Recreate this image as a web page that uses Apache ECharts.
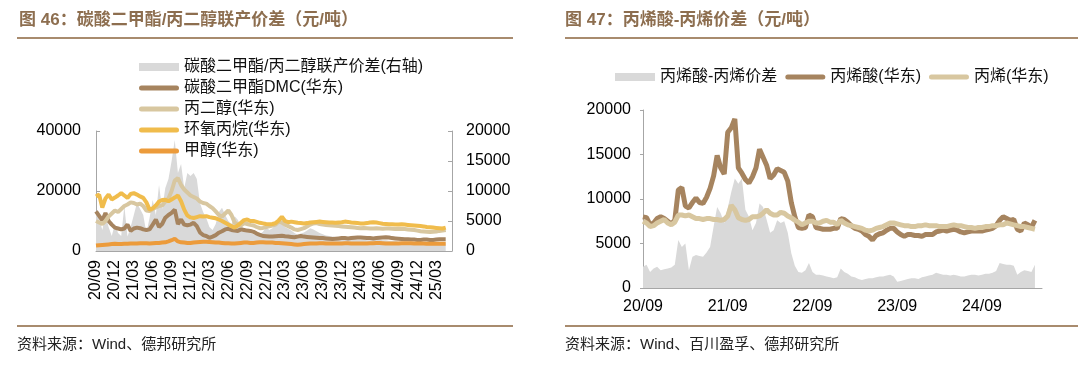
<!DOCTYPE html>
<html><head><meta charset="utf-8">
<script src="https://cdn.jsdelivr.net/npm/echarts@6/dist/echarts.min.js"></script>
<style>html,body{margin:0;padding:0;background:#fff}#c{width:1080px;height:366px}</style>
</head><body><div id="c"></div>
<script>
// half-month categories, 2020-09 .. 2025-05 (112 points)
const dates = [];
for (let y = 2020, m = 9; y < 2025 || (y === 2025 && m <= 5); m++) {
  if (m > 12) { m = 1; y++; if (y === 2025 && m > 5) break; }
  const mm = (m < 10 ? '0' : '') + m;
  dates.push(y + '-' + mm + '-01', y + '-' + mm + '-16');
}

// ---- Figure 46 (left) ----
const dmcPgSpread = [6500,5500,3500,6000,4000,2500,4500,3000,2500,7500,
  2400,4000,6000,8000,7000,6000,3000,5500,8500,6000,
  11000,7000,10500,12000,15000,18500,13000,14500,10500,13000,
  12500,13000,12000,8000,6500,5500,4000,3500,4500,6500,
  7200,6000,5000,4500,5800,5200,4200,3800,3200,3000,
  2800,2600,2800,3200,4000,3500,3800,4300,4800,4500,
  4000,3700,3400,3000,2700,2900,3100,3400,3800,3600,
  3300,3000,2800,2600,2500,2400,2300,2300,2200,2200,
  2100,2000,2000,1900,1900,1900,1800,1800,1800,1900,
  1900,1800,1800,1700,1700,1700,1600,1600,1600,1600,
  1500,1500,1500,1500,1500,1500,1400,1400,1400,1400,
  1400,1400];
const dmc = [13200,11700,10200,12700,10000,8800,7800,7500,7200,7500,
  8800,6700,7500,7800,7600,7200,7000,7200,8800,10500,
  8000,9000,11100,12000,12700,13800,9000,10500,8800,8600,
  8800,9400,8300,6200,5300,5000,4400,4800,5300,6100,
  6600,7200,7400,7000,6800,6700,7200,7000,6800,6700,
  6400,5800,5400,5000,4900,4800,4800,4900,5000,5100,
  4900,4800,4700,4600,4800,5000,4800,4700,4600,4500,
  4400,4300,4300,4200,4100,4000,4100,4200,4300,4300,
  4200,4300,4400,4500,4500,4400,4300,4300,4200,4300,
  4400,4500,4600,4500,4300,4200,4100,4000,3900,3900,
  3800,3800,3700,3700,3800,3800,3700,3700,3800,3900,
  3900,3900];
const pg = [10000,9500,9000,10000,11500,12500,13500,13000,14000,15000,
  15500,16200,16000,15500,15800,15000,13500,13300,14000,14500,
  15000,15200,16500,17500,20000,23500,24300,22000,20500,19500,
  18500,18000,17500,16500,16000,15800,15000,14300,13200,12000,
  11500,12500,13500,12000,9500,8800,8500,9300,9000,8700,
  8500,8000,7600,7700,8000,8200,8500,8800,9800,9500,
  8800,8300,7800,7200,7000,7300,7600,8200,8800,9200,
  9300,9000,8800,8700,8600,8500,8400,8300,8200,8100,
  8000,7900,7800,7700,7600,7700,7600,7500,7500,7600,
  7500,7400,7500,7500,7400,7300,7400,7300,7300,7200,
  7100,7000,6800,6600,6500,6400,6300,6400,6500,6700,
  6800,7000];
const po = [18200,18800,14500,17500,18800,17200,17800,18500,19300,18500,
  17700,19000,19300,18800,18200,17700,16200,13800,14200,15200,
  16500,17000,17100,16600,17200,17800,18500,16600,13800,11800,
  11200,11000,11300,11600,11500,11600,11300,11100,10900,10500,
  10000,9400,8800,8300,7800,8500,9400,10300,10500,10000,
  10000,9700,9400,9200,9000,8900,9000,9300,10200,11400,
  10000,9600,9800,9600,9400,9300,9200,9300,9500,9600,
  9700,9800,9700,9600,9500,9500,9400,9500,9600,9800,
  9700,9500,9400,9300,9200,9200,9300,9500,9600,9500,
  9300,9100,9000,8900,8900,8800,8800,8900,8800,8700,
  8600,8500,8400,8300,8200,8000,7900,7800,7700,7600,
  7500,7800];
const methanol = [1800,1900,2000,2100,2200,2300,2400,2300,2300,2400,
  2400,2500,2500,2500,2600,2600,2600,2500,2600,2700,
  2700,2800,2900,3200,3600,4100,3200,2900,2800,2700,
  2700,2800,2900,3000,3100,3100,3000,2900,2800,2800,
  2700,2600,2600,2500,2500,2600,2700,2800,2800,2700,
  2700,2800,2900,2900,2800,2800,2800,2700,2700,2600,
  2500,2400,2300,2200,2100,2200,2300,2400,2500,2500,
  2500,2600,2600,2500,2500,2500,2500,2500,2500,2600,
  2600,2500,2500,2500,2500,2500,2500,2600,2600,2700,
  2700,2600,2500,2500,2500,2500,2500,2600,2600,2600,
  2600,2500,2500,2500,2500,2400,2400,2400,2400,2400,
  2400,2400];

// ---- Figure 47 (right) ----
const aaSpread = [2400,2600,1800,2200,2400,2000,2100,2200,2300,2600,
  5400,4600,5000,2000,3500,3700,3600,3500,4000,4600,
  6900,9100,8400,7300,9000,10800,12300,11700,12300,8800,
  8000,6500,7300,9500,9100,7700,6200,6500,7600,7300,
  7500,6200,3900,2500,1800,1700,2000,2800,1800,1500,
  1500,1400,1300,1200,1100,1200,2200,1800,1600,1300,
  1200,1000,900,1000,1100,1100,1200,1300,1300,1400,
  1500,1300,700,800,900,1000,1100,1100,1000,1200,
  1300,1400,1500,1700,1600,1500,1500,1400,1500,1400,
  1300,1300,1400,1500,1500,1400,1500,1600,1600,1700,
  1900,2800,2700,2600,2600,2500,1500,1800,2000,1900,
  1800,2600];
const acrylicAcid = [8000,7900,7100,7300,7800,8000,7800,7500,7200,7600,
  11000,11300,9200,9000,9600,10100,9600,9500,10200,11200,
  12600,14900,13500,12800,17500,18000,19000,13500,12900,12200,
  11800,12500,13500,15600,14700,13800,12300,12700,13400,13200,
  13000,12000,9600,8000,6800,6700,6800,8200,8000,6800,
  6700,6600,6600,6600,6700,6700,7800,7700,7400,7000,
  6700,6600,6400,6000,5800,5400,5900,6100,6200,6500,
  6700,6700,6300,6000,5800,6000,6000,5900,5900,5800,
  6000,6000,6000,6300,6400,6500,6400,6500,6600,6500,
  6300,6200,6300,6400,6400,6400,6400,6500,6600,6700,
  7000,7600,8000,7800,7600,7700,6600,6400,7300,7100,
  6800,7600];
const propylene = [7500,7300,6900,7000,7300,7500,7700,7300,7100,7400,
  8200,8200,8100,8200,8000,7800,7800,7700,7800,7800,
  7700,7700,7600,7700,8100,9300,8800,7900,7700,7600,
  7700,8000,8000,8100,8400,8800,8400,8200,8200,8500,
  8400,8100,7900,7600,7400,7100,7300,7500,7500,7300,
  7300,7500,7600,7400,7400,7100,7600,7300,7100,7000,
  6900,6800,6700,6500,6400,6500,6700,6800,6900,7100,
  7300,7300,7200,7100,7000,7000,6900,6900,7000,7000,
  7100,7000,7000,7000,6900,6900,6900,7000,7100,7000,
  7000,6900,6800,6800,6700,6800,6800,6900,6900,7000,
  7000,7100,7100,7300,7200,7100,7000,6900,6900,6800,
  6700,6600];

const leftNames = ['碳酸二甲酯/丙二醇联产价差(右轴)', '碳酸二甲酯DMC(华东)', '丙二醇(华东)', '环氧丙烷(华东)', '甲醇(华东)'];
const rightNames = ['丙烯酸-丙烯价差', '丙烯酸(华东)', '丙烯(华东)'];

const C = { gray: '#d9d9d9', brown: '#a6845f', tan: '#d8c7a0', yellow: '#f0bc4c', orange: '#ec9b3b' };
const FONT = '"Liberation Sans", "Noto Sans CJK SC", sans-serif';
const LINE_ICON = 'path://M0,0M40,8M2.5,1.5L37.5,1.5A2.5,2.5,0,0,1,37.5,6.5L2.5,6.5A2.5,2.5,0,0,1,2.5,1.5Z';
const AXIS = '#a6a6a6';
const plain = (v) => String(v);

function lineSeries(name, data, color, xi, yi, w) {
  return { name, type: 'line', data, xAxisIndex: xi, yAxisIndex: yi, symbol: 'none',
    lineStyle: { color, width: w }, itemStyle: { color }, animation: false };
}
function areaSeries(name, data, xi, yi) {
  return { name, type: 'line', data, xAxisIndex: xi, yAxisIndex: yi, symbol: 'none',
    lineStyle: { width: 0 }, areaStyle: { color: C.gray, opacity: 1 }, itemStyle: { color: C.gray }, animation: false };
}

const chart = echarts.init(document.getElementById('c'), null, { renderer: 'canvas' });
chart.setOption({
  backgroundColor: '#fff',
  animation: false,
  textStyle: { fontFamily: FONT },
  graphic: [
    { type: 'text', x: 19, y: 20, style: { text: '图 46：碳酸二甲酯/丙二醇联产价差（元/吨）', fill: '#8d6e4f', font: 'bold 17px ' + FONT, verticalAlign: 'middle' } },
    { type: 'text', x: 565, y: 20, style: { text: '图 47：丙烯酸-丙烯价差（元/吨）', fill: '#8d6e4f', font: 'bold 17px ' + FONT, verticalAlign: 'middle' } },
    { type: 'line', shape: { x1: 17, y1: 38, x2: 513, y2: 38 }, style: { stroke: '#a88b6e', lineWidth: 2 } },
    { type: 'line', shape: { x1: 565, y1: 38, x2: 1078, y2: 38 }, style: { stroke: '#a88b6e', lineWidth: 2 } },
    { type: 'line', shape: { x1: 17, y1: 326, x2: 513, y2: 326 }, style: { stroke: '#a88b6e', lineWidth: 2 } },
    { type: 'line', shape: { x1: 565, y1: 326, x2: 1078, y2: 326 }, style: { stroke: '#a88b6e', lineWidth: 2 } },
    { type: 'text', x: 17, y: 345, style: { text: '资料来源：Wind、德邦研究所', fill: '#222', font: '15px ' + FONT, verticalAlign: 'middle' } },
    { type: 'text', x: 565, y: 345, style: { text: '资料来源：Wind、百川盈孚、德邦研究所', fill: '#222', font: '15px ' + FONT, verticalAlign: 'middle' } }
  ],
  legend: [
    { orient: 'vertical', left: 134, top: 54, itemWidth: 40, itemHeight: 8, itemGap: 5,
      textStyle: { fontSize: 16, color: '#111', fontFamily: FONT },
      data: [
        { name: leftNames[0], icon: 'rect' },
        { name: leftNames[1], icon: LINE_ICON },
        { name: leftNames[2], icon: LINE_ICON },
        { name: leftNames[3], icon: LINE_ICON },
        { name: leftNames[4], icon: LINE_ICON }
      ] },
    { orient: 'horizontal', left: 610, top: 64, itemWidth: 40, itemHeight: 8, itemGap: 8,
      textStyle: { fontSize: 16, color: '#111', fontFamily: FONT },
      data: [
        { name: rightNames[0], icon: 'rect' },
        { name: rightNames[1], icon: LINE_ICON },
        { name: rightNames[2], icon: LINE_ICON }
      ] }
  ],
  grid: [
    { left: 96, right: 628, top: 131, bottom: 115 },
    { left: 643, right: 38, top: 110, bottom: 78 }
  ],
  xAxis: [
    { type: 'category', gridIndex: 0, data: dates, boundaryGap: false,
      axisLine: { lineStyle: { color: AXIS } },
      axisTick: { inside: true, length: 4, lineStyle: { color: AXIS }, interval: (i) => i % 6 === 0 },
      axisLabel: { rotate: 90, margin: 9, fontSize: 16, color: '#000', interval: (i) => i % 6 === 0,
        formatter: (v) => v.slice(2, 4) + '/' + v.slice(5, 7) } },
    { type: 'category', gridIndex: 1, data: dates, boundaryGap: false,
      axisLine: { lineStyle: { color: AXIS } },
      axisTick: { inside: true, length: 5, lineStyle: { color: '#777' }, interval: (i) => i % 24 === 0 },
      axisLabel: { margin: 11, fontSize: 16, color: '#000', interval: (i) => i % 24 === 0,
        formatter: (v) => v.slice(2, 4) + '/' + v.slice(5, 7) } }
  ],
  yAxis: [
    { type: 'value', gridIndex: 0, min: 0, max: 40000, interval: 20000, splitLine: { show: false },
      axisLine: { show: true, lineStyle: { color: AXIS } },
      axisTick: { show: true, inside: true, length: 4, lineStyle: { color: AXIS } },
      axisLabel: { margin: 15, fontSize: 16, color: '#000', formatter: plain } },
    { type: 'value', gridIndex: 0, position: 'right', min: 0, max: 20000, interval: 5000, splitLine: { show: false },
      axisLine: { show: true, lineStyle: { color: AXIS } },
      axisTick: { show: true, inside: true, length: 4, lineStyle: { color: AXIS } },
      axisLabel: { margin: 14, fontSize: 16, color: '#000', formatter: plain } },
    { type: 'value', gridIndex: 1, min: 0, max: 20000, interval: 5000, splitLine: { show: false },
      axisLine: { show: true, lineStyle: { color: AXIS } },
      axisTick: { show: true, inside: false, length: 3, lineStyle: { color: AXIS } },
      axisLabel: { margin: 12, fontSize: 16, color: '#000', formatter: plain } }
  ],
  series: [
    areaSeries(leftNames[0], dmcPgSpread, 0, 1),
    lineSeries(leftNames[1], dmc, C.brown, 0, 0, 4),
    lineSeries(leftNames[2], pg, C.tan, 0, 0, 4),
    lineSeries(leftNames[3], po, C.yellow, 0, 0, 4),
    lineSeries(leftNames[4], methanol, C.orange, 0, 0, 4),
    areaSeries(rightNames[0], aaSpread, 1, 2),
    lineSeries(rightNames[1], acrylicAcid, C.brown, 1, 2, 5),
    lineSeries(rightNames[2], propylene, C.tan, 1, 2, 5)
  ]
});
</script></body></html>
